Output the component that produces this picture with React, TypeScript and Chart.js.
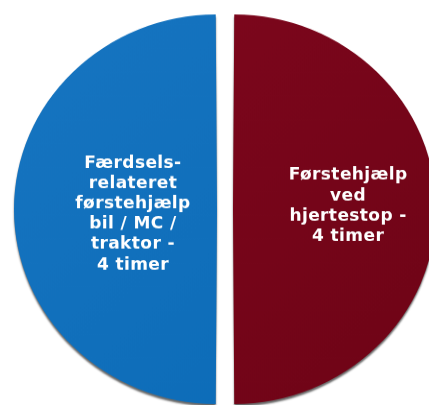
import { useEffect, useRef } from "react";
import { Chart, registerables } from "chart.js";

Chart.register(...registerables);

// Slice labels (multi-line), clockwise from the top
const categories: string[][] = [
  ["Førstehjælp", "ved", "hjertestop -", "4 timer"],
  ["Færdsels-", "relateret", "førstehjælp", "bil / MC /", "traktor -", "4 timer"],
];
// Course length in hours
const hours: number[] = [4, 4];
// Gradient colours per slice [light, dark]
const sliceColors: string[][] = [
  ["#80071e", "#6e0416"],
  ["#1775c1", "#0a6ab6"],
];

const CW = 429;
const CH = 422;
const SCALE_Y = 405 / CH;

const shadowPlugin = {
  id: "sliceShadow",
  beforeDatasetDraw(chart: any) {
    const ctx = chart.ctx;
    ctx.save();
    ctx.shadowColor = "rgba(0,0,0,0.6)";
    ctx.shadowBlur = 2;
    ctx.shadowOffsetX = 0;
    ctx.shadowOffsetY = 2.5;
  },
  afterDatasetDraw(chart: any) {
    chart.ctx.restore();
  },
};

const labelPlugin = {
  id: "sliceLabels",
  afterDatasetsDraw(chart: any, _args: any, opts: any) {
    const meta = chart.getDatasetMeta(0);
    const ctx = chart.ctx;
    ctx.save();
    ctx.fillStyle = "#ffffff";
    ctx.font = "bold 17px 'DejaVu Sans', Verdana, sans-serif";
    try {
      (ctx as any).letterSpacing = "0.4px";
    } catch (e) {}
    ctx.textAlign = "center";
    ctx.textBaseline = "middle";
    meta.data.forEach((arc: any, i: number) => {
      const p = arc.getProps(["x", "y", "startAngle", "endAngle", "outerRadius", "circumference"], true);
      const mid = (p.startAngle + p.endAngle) / 2;
      // same displacement / growth that ArcElement applies for its offset
      const base = (arc.options.offset || 0) / 4;
      const fix = 1 - Math.sin(Math.min(Math.PI, p.circumference || 0));
      const rEff = p.outerRadius + base * fix;
      const r = rEff * opts.radial[i];
      const cx = p.x + Math.cos(mid) * (base + r);
      const cy = p.y + Math.sin(mid) * (base + r) + opts.dy[i];
      const lines: string[] = chart.data.labels[i];
      const lh = opts.lineHeight;
      lines.forEach((t: string, k: number) => {
        ctx.fillText(t, cx, cy + (k - (lines.length - 1) / 2) * lh);
      });
    });
    ctx.restore();
  },
};

export default function App() {
  const ref = useRef<HTMLCanvasElement | null>(null);

  useEffect(() => {
    if (!ref.current) return;
    const chart = new Chart(ref.current, {
      type: "pie",
      data: {
        labels: categories as any,
        datasets: [
          {
            data: hours,
            backgroundColor: (c: any) => {
              const cols = sliceColors[c.dataIndex] || sliceColors[0];
              const area = c.chart.chartArea;
              if (!area) return cols[0];
              const g = c.chart.ctx.createLinearGradient(area.left, area.top, area.right, area.bottom);
              g.addColorStop(0, cols[0]);
              g.addColorStop(1, cols[1]);
              return g;
            },
            borderWidth: 0,
            offset: 32,
            hoverOffset: 0,
          } as any,
        ],
      },
      options: {
        responsive: false,
        animation: false,
        events: [],
        radius: 195,
        rotation: 0,
        layout: { padding: { left: 21, top: 14, right: 0, bottom: 0 } },
        plugins: {
          legend: { display: false },
          tooltip: { enabled: false },
          sliceLabels: { radial: [0.567, 0.414], dy: [-3.2, 5.2], lineHeight: 21.2 },
        } as any,
      },
      plugins: [shadowPlugin, labelPlugin],
    });
    return () => chart.destroy();
  }, []);

  return (
    <div
      style={{
        position: "absolute",
        left: 0,
        top: 0,
        width: CW,
        height: 405,
        overflow: "hidden",
        background: "#ffffff",
      }}
    >
      <div
        style={{
          width: CW,
          height: CH,
          transform: `scaleY(${SCALE_Y})`,
          transformOrigin: "0 0",
        }}
      >
        <canvas ref={ref} width={CW} height={CH} style={{ display: "block" }} />
      </div>
    </div>
  );
}
